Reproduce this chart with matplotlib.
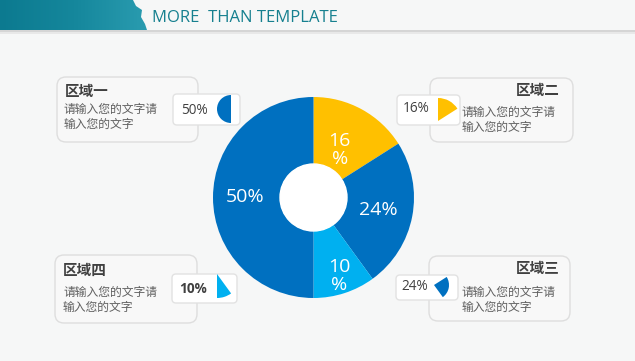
import numpy as np
import matplotlib.pyplot as plt
from matplotlib.patches import FancyBboxPatch, Wedge, Polygon

plt.rcParams['font.family'] = ['Open Sans', 'Noto Sans CJK SC', 'DejaVu Sans']

# dati del grafico (dall'alto in senso orario)
shares = [16, 24, 10, 50]
share_labels = ['16\n%', '24%', '10\n%', '50%']
colors = ['#FFC000', '#0070C0', '#00B0F0', '#0070C0']

region_titles = ['区域一', '区域二', '区域三', '区域四']
region_text = '请输入您的文字请\n输入您的文字'
region_values = ['50%', '16%', '24%', '10%']
region_slice = [3, 0, 1, 2]  # indice della fetta per ogni riquadro

bg = '#F6F7F7'
fig = plt.figure(figsize=(6.35, 3.61), dpi=100, facecolor=bg)
ax = fig.add_axes([0, 0, 1, 1])
ax.set_xlim(0, 635)
ax.set_ylim(361, 0)
ax.set_aspect('equal')
ax.axis('off')

# intestazione
band = Polygon([(0, 0), (133, 0), (136, 6), (142, 10), (141, 17), (145, 24),
                (147, 30), (0, 30)], closed=True, transform=ax.transData)
grad = np.linspace(0, 1, 256).reshape(1, -1)
im = ax.imshow(grad, extent=(0, 148, 30, 0), cmap=plt.matplotlib.colors.LinearSegmentedColormap.from_list(
    'teal', ['#0C7A90', '#15879C', '#2A9CB0']), aspect='auto', zorder=1)
im.set_clip_path(band)
ax.plot([0, 635], [31, 31], color='#CFCFCF', lw=1.2, zorder=2)
ax.plot([0, 635], [32.5, 32.5], color='#E6E6E6', lw=1.2, zorder=2)
ax.text(152, 18, 'MORE  THAN TEMPLATE', fontsize=12, color='#16808F',
        va='center', ha='left')

# ciambella
cx, cy, R = 313.5, 197.5, 100.5
wedges, _ = ax.pie(shares, colors=colors, startangle=-90, counterclock=True,
                   center=(cx, cy), radius=R, frame=True,
                   wedgeprops=dict(width=R - 33.5, linewidth=0))
ax.set_xlim(0, 635)
ax.set_ylim(361, 0)
ax.axis('off')
ax.add_patch(plt.Circle((cx, cy), 33.5, color='white', zorder=3))

label_r = [0.54, 0.66, 0.82, 0.68]
for w, lab, lr in zip(wedges, share_labels, label_r):
    a = np.deg2rad((w.theta1 + w.theta2) / 2)
    ax.text(cx + lr * R * np.cos(a), cy + lr * R * np.sin(a), lab,
            color='white', fontsize=14, ha='center', va='center',
            linespacing=1.05, zorder=4)

# riquadri
big_boxes = [(57, 77, 141, 65), (430, 78, 143, 64), (429, 256, 141, 65), (55, 255, 142, 68)]
small_boxes = [(173, 94, 67, 31), (397, 95, 63, 30), (396, 275, 62, 25), (172, 274, 65, 29)]
title_pos = [(65, 92, 'left'), (560, 91, 'right'), (560, 269, 'right'), (63, 271, 'left')]
body_pos = [(64, 117), (462, 120), (462, 300), (63, 300)]
value_pos = [(194, 110), (416, 109), (415, 287), (193, 289)]
icons = [((231, 109), 14), ((438, 121), 23), ((434, 285), 15), ((217, 274), 24)]

for i in range(4):
    x, y, w_, h_ = big_boxes[i]
    ax.add_patch(FancyBboxPatch((x, y), w_, h_, boxstyle='round,pad=0,rounding_size=9',
                                fc='#F8F8F8', ec='#DEDEDE', lw=1, zorder=1))
    x, y, w_, h_ = small_boxes[i]
    ax.add_patch(FancyBboxPatch((x, y), w_, h_, boxstyle='round,pad=0,rounding_size=4',
                                fc='white', ec='#E2E2E2', lw=1, zorder=2))
    tx, ty, ha = title_pos[i]
    ax.text(tx, ty, region_titles[i], fontsize=10.5, fontweight='bold',
            color='#404040', ha=ha, va='center', zorder=3)
    bx, by = body_pos[i]
    ax.text(bx, by, region_text, fontsize=8.5, color='#5F5F5F', ha='left',
            va='center', linespacing=1.2, zorder=3)
    vx, vy = value_pos[i]
    ax.text(vx, vy, region_values[i], fontsize=9.8, color='#404040',
            fontweight='bold' if i == 3 else 'normal', ha='center', va='center', zorder=3)
    sw = wedges[region_slice[i]]
    (ix, iy), ir = icons[i]
    ax.add_patch(Wedge((ix, iy), ir, sw.theta1, sw.theta2,
                       fc=colors[region_slice[i]], ec='none', zorder=3))

fig.savefig('out.png', dpi=100, facecolor=bg)
